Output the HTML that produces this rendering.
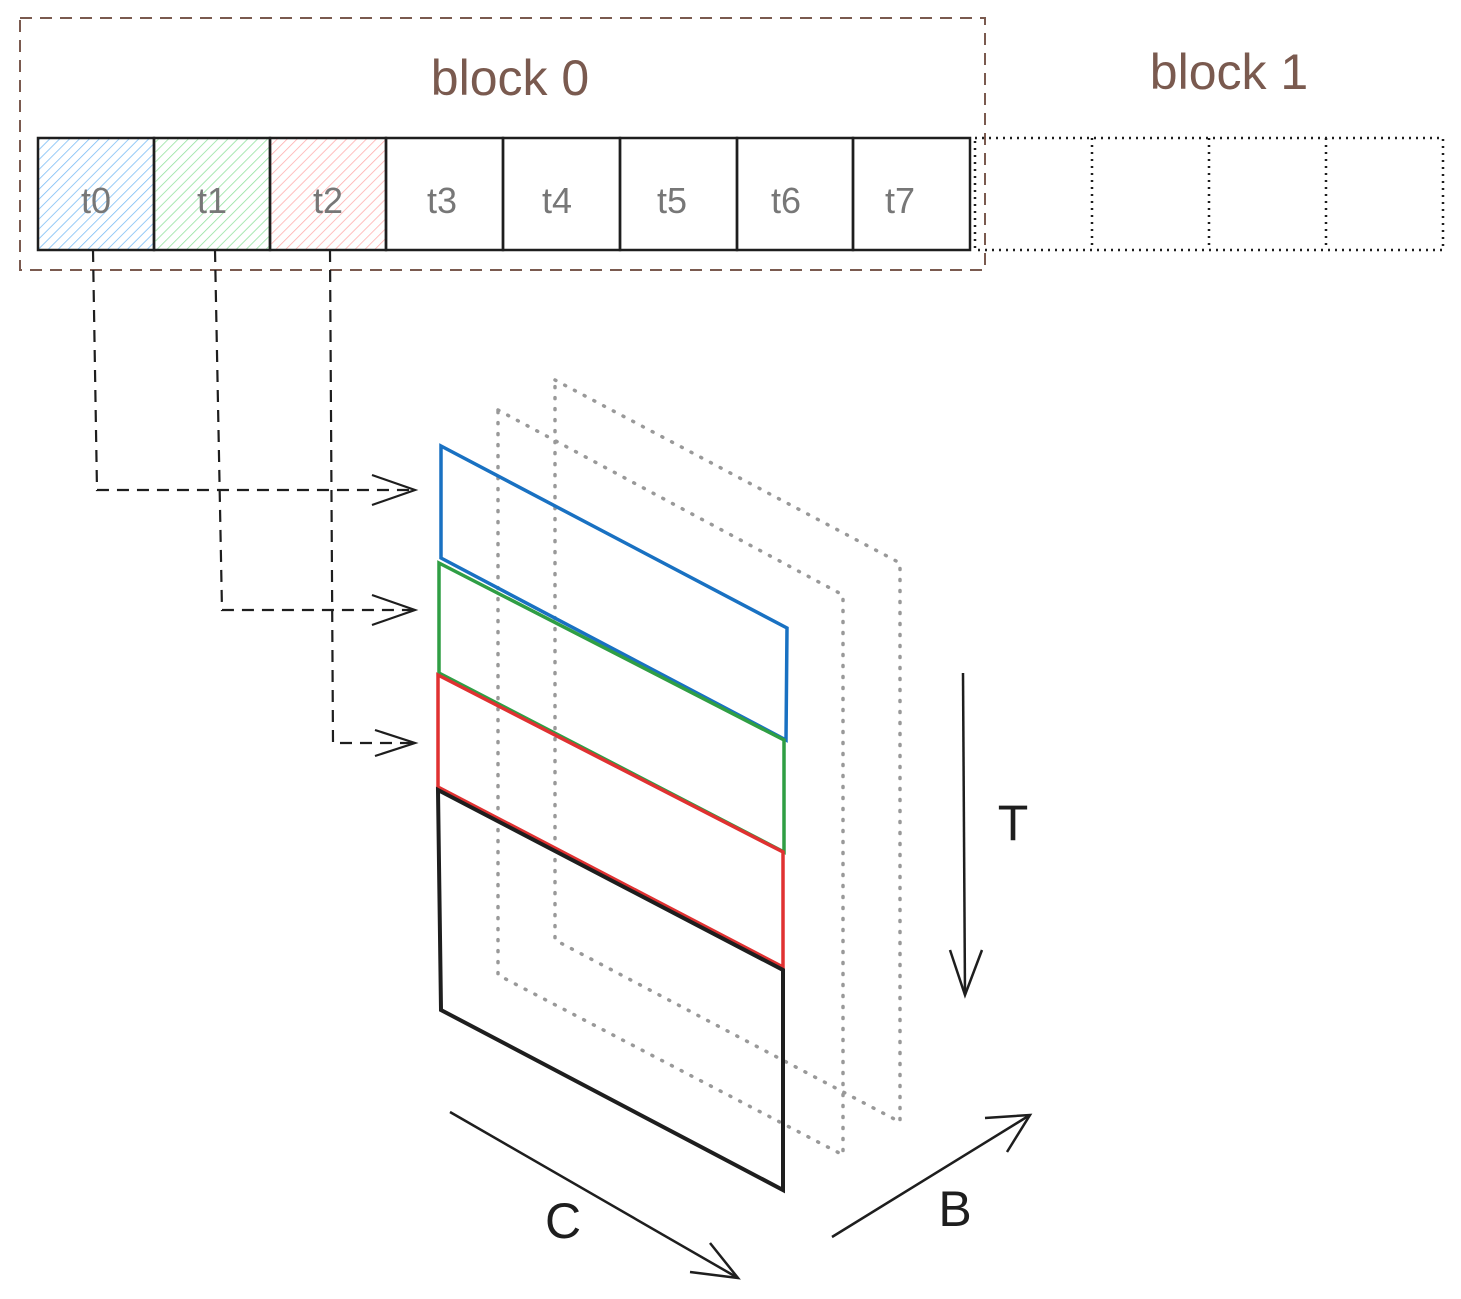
<!DOCTYPE html>
<html><head><meta charset="utf-8"><style>
html,body{margin:0;padding:0;background:#fff}
svg{display:block}
text{font-family:"Liberation Sans",sans-serif}
</style></head><body>
<svg width="1461" height="1299" viewBox="0 0 1461 1299">
<defs>
<pattern id="hb" patternUnits="userSpaceOnUse" width="7" height="7" patternTransform="rotate(45)"><line x1="0" y1="0" x2="0" y2="7" stroke="#74b9f5" stroke-width="1.5"/></pattern>
<pattern id="hg" patternUnits="userSpaceOnUse" width="7" height="7" patternTransform="rotate(45)"><line x1="0" y1="0" x2="0" y2="7" stroke="#8ee09a" stroke-width="1.5"/></pattern>
<pattern id="hr" patternUnits="userSpaceOnUse" width="7" height="7" patternTransform="rotate(45)"><line x1="0" y1="0" x2="0" y2="7" stroke="#ffaaaa" stroke-width="1.5"/></pattern>
</defs>
<rect x="20" y="18" width="965" height="252" fill="none" stroke="#7a5a4f" stroke-width="2" stroke-dasharray="12 8"/>
<text x="510" y="95" font-size="50" fill="#7a5a4f" text-anchor="middle">block 0</text>
<text x="1229" y="89" font-size="50" fill="#7a5a4f" text-anchor="middle">block 1</text>
<g>
<rect x="38" y="138" width="116" height="112" fill="url(#hb)" stroke="#1e1e1e" stroke-width="2.5"/>
<rect x="154" y="138" width="116" height="112" fill="url(#hg)" stroke="#1e1e1e" stroke-width="2.5"/>
<rect x="270" y="138" width="116" height="112" fill="url(#hr)" stroke="#1e1e1e" stroke-width="2.5"/>
<rect x="386" y="138" width="117" height="112" fill="none" stroke="#1e1e1e" stroke-width="2.5"/>
<rect x="503" y="138" width="117" height="112" fill="none" stroke="#1e1e1e" stroke-width="2.5"/>
<rect x="620" y="138" width="117" height="112" fill="none" stroke="#1e1e1e" stroke-width="2.5"/>
<rect x="737" y="138" width="116" height="112" fill="none" stroke="#1e1e1e" stroke-width="2.5"/>
<rect x="853" y="138" width="117" height="112" fill="none" stroke="#1e1e1e" stroke-width="2.5"/>
</g>
<g font-size="36" fill="#777" text-anchor="middle">
<text x="96" y="213">t0</text>
<text x="212" y="213">t1</text>
<text x="328" y="213">t2</text>
<text x="442" y="213">t3</text>
<text x="557" y="213">t4</text>
<text x="672" y="213">t5</text>
<text x="786" y="213">t6</text>
<text x="900" y="213">t7</text>
</g>
<g fill="none" stroke="#1e1e1e" stroke-width="2.5" stroke-dasharray="2 5">
<rect x="975" y="138" width="468" height="112"/>
<line x1="1092" y1="138" x2="1092" y2="250"/>
<line x1="1209" y1="138" x2="1209" y2="250"/>
<line x1="1326" y1="138" x2="1326" y2="250"/>
</g>
<g fill="none" stroke="#1e1e1e" stroke-width="2.2">
<path stroke-dasharray="12 8" d="M93 250 L97 490 L415 490"/>
<path d="M372 475 L415 490 L372 505"/>
<path stroke-dasharray="12 8" d="M215 250 L222 610 L415 610"/>
<path d="M372 595 L415 610 L372 625"/>
<path stroke-dasharray="12 8" d="M330 250 L333 743 L415 743"/>
<path d="M375 730 L415 743 L375 756"/>
</g>
<g fill="none" stroke="#999" stroke-width="3.5" stroke-linecap="round" stroke-dasharray="1 10">
<path d="M555 380 L900 563 L900 1122 L555 940 Z"/>
<path d="M498 410 L843 595 L843 1155 L498 975 Z"/>
</g>
<g fill="none" stroke-width="3.5">
<path d="M441 446 L787 628 L786 740 L441 558 Z" stroke="#1971c2"/>
<path d="M439 563 L784 740 L784 852 L439 673 Z" stroke="#2f9e44"/>
<path d="M438 675 L783 852 L783 967 L438 787 Z" stroke="#e03131"/>
<path d="M438 790 L783 970 L783 1190 L441 1010 Z" stroke="#1e1e1e" stroke-width="4"/>
</g>
<g fill="none" stroke="#1e1e1e" stroke-width="2.5">
<path d="M963 673 L965 995"/><path d="M950 950 L965 995 L982 950"/>
<path d="M450 1112 L738 1278"/><path d="M690 1272 L738 1278 L710 1243"/>
<path d="M832 1237 L1030 1115"/><path d="M985 1118 L1030 1115 L1007 1152"/>
</g>
<text x="1013" y="840" font-size="50" fill="#1e1e1e" text-anchor="middle">T</text>
<text x="563" y="1238" font-size="50" fill="#1e1e1e" text-anchor="middle">C</text>
<text x="955" y="1226" font-size="50" fill="#1e1e1e" text-anchor="middle">B</text>
</svg>
</body></html>
